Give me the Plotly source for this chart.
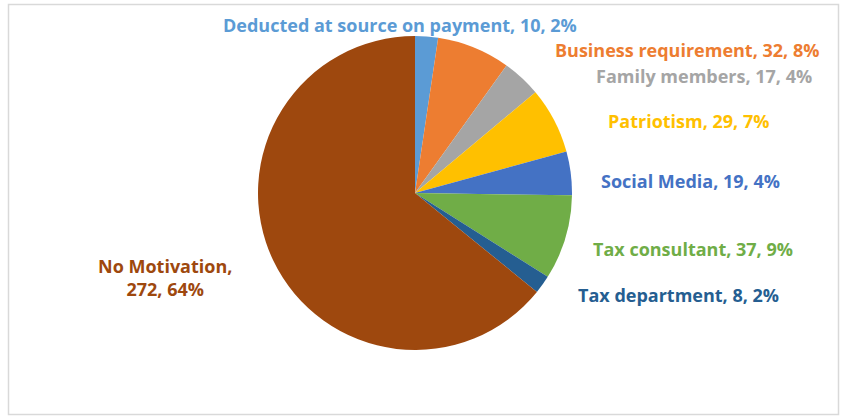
import plotly.graph_objects as go

# Survey responses: what motivates taxpayers to file
categories = [
    "Deducted at source on payment",
    "Business requirement",
    "Family members",
    "Patriotism",
    "Social Media",
    "Tax consultant",
    "Tax department",
    "No Motivation",
]
counts = [10, 32, 17, 29, 19, 37, 8, 272]
colors = ["#5B9BD5", "#ED7D31", "#A5A5A5", "#FFC000", "#4472C4", "#70AD47", "#255E91", "#9E480E"]

W, H = 846, 416
total = sum(counts)

def px_x(x):
    return x / W

def px_y(y):
    return 1 - y / H

# pie placement (pixels)
cx, cy, r = 415, 193, 157

fig = go.Figure()
fig.add_trace(go.Pie(
    labels=categories,
    values=counts,
    sort=False,
    direction="clockwise",
    rotation=0,
    marker=dict(colors=colors, line=dict(width=0)),
    textinfo="none",
    hoverinfo="label+value+percent",
    showlegend=False,
    domain=dict(x=[px_x(cx - r), px_x(cx + r)], y=[px_y(cy + r), px_y(cy - r)]),
))

# data label anchor points (pixel centres)
label_pos = [
    (400, 25),
    (687, 50),
    (704, 76),
    (688, 121),
    (690, 181),
    (693, 249),
    (678, 295),
    (165, 277),
]

annotations = []
for name, val, col, (lx, ly) in zip(categories, counts, colors, label_pos):
    pct = round(100 * val / total)
    if name == "No Motivation":
        text = f"<b>{name},<br>{val}, {pct}%</b>"
    else:
        text = f"<b>{name}, {val}, {pct}%</b>"
    annotations.append(dict(
        x=px_x(lx), y=px_y(ly), xref="paper", yref="paper",
        text=text, showarrow=False, xanchor="center", yanchor="middle",
        align="center",
        font=dict(family="Open Sans, sans-serif", size=18, color=col),
    ))

fig.update_layout(
    width=W, height=H,
    margin=dict(l=0, r=0, t=0, b=0),
    paper_bgcolor="white",
    plot_bgcolor="white",
    annotations=annotations,
    shapes=[dict(
        type="rect", xref="paper", yref="paper",
        x0=px_x(8.5), x1=px_x(838.5), y0=px_y(414.5), y1=px_y(4.5),
        line=dict(color="#D9D9D9", width=1.5),
    )],
)

fig.write_html("out.html")
